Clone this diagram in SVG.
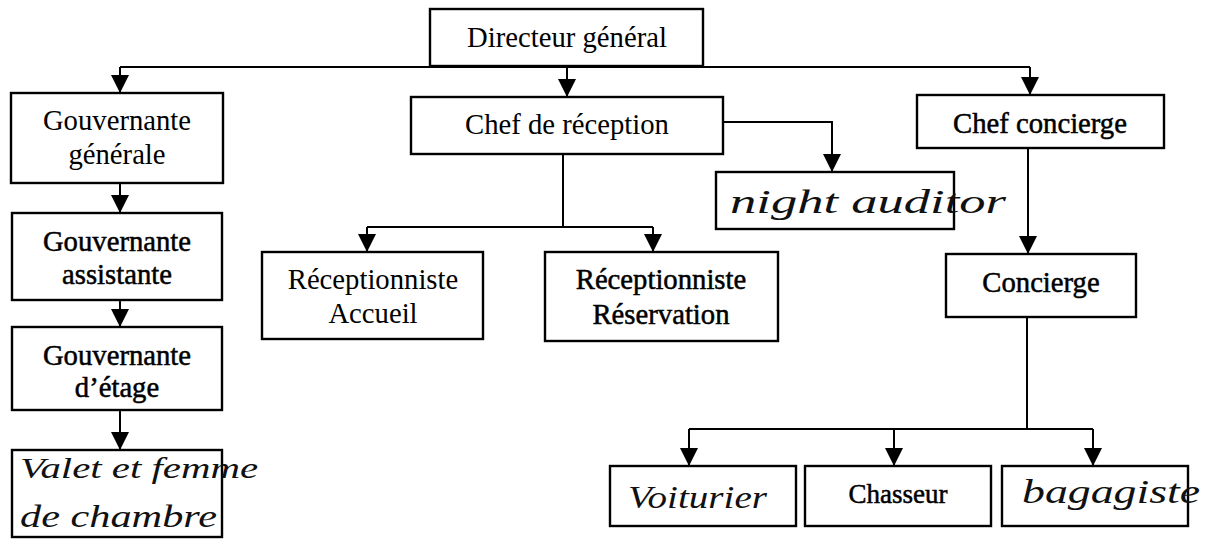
<svg xmlns="http://www.w3.org/2000/svg" width="1210" height="547" viewBox="0 0 1210 547">
<defs>
<marker id="arr" viewBox="0 0 18 18" refX="18" refY="9" markerWidth="18" markerHeight="18" markerUnits="userSpaceOnUse" orient="auto"><path d="M0,0 L18,9 L0,18 Z" fill="#000"/></marker>
<style>
.box{fill:#fff;stroke:#000;stroke-width:2.4}
.t{font-family:"Liberation Serif","Times New Roman",serif;font-size:28.7px;fill:#000;text-anchor:middle}
.d{stroke:#000;stroke-width:0.5}
.hw{font-family:"Liberation Serif","Times New Roman",serif;font-style:italic;fill:#111}
.c{fill:none;stroke:#000;stroke-width:2}
.a{marker-end:url(#arr)}
</style>
</defs>
<rect width="1210" height="547" fill="#fff"/>
<g id="connectors">
<path class="c" d="M120,67 H1030"/>
<path class="c a" d="M120,67 V93"/>
<path class="c a" d="M567,67 V97"/>
<path class="c a" d="M1030,67 V95"/>
<path class="c a" d="M120,183 V213"/>
<path class="c a" d="M120,300 V327"/>
<path class="c a" d="M120,410 V450"/>
<path class="c a" d="M723,122 H832 V172"/>
<path class="c" d="M563,154 V227 M367,227 H653"/>
<path class="c a" d="M367,227 V252"/>
<path class="c a" d="M653,227 V252"/>
<path class="c a" d="M1028,148 V254"/>
<path class="c" d="M1027,317 V429 M689,429 H1093"/>
<path class="c a" d="M689,429 V466"/>
<path class="c a" d="M894,429 V466"/>
<path class="c a" d="M1093,429 V466"/>
</g>
<g id="directeur"><rect class="box" x="430" y="9" width="273" height="57"/><text class="t" x="567" y="47">Directeur général</text></g>
<g id="gouv-generale"><rect class="box" x="11" y="93" width="212" height="90"/><text class="t" x="117" y="130">Gouvernante</text><text class="t" x="117" y="164">générale</text></g>
<g id="gouv-assistante"><rect class="box" x="12" y="213" width="210" height="87"/><text class="t d" x="117" y="251">Gouvernante</text><text class="t d" x="117" y="284">assistante</text></g>
<g id="gouv-etage"><rect class="box" x="12" y="327" width="210" height="83"/><text class="t d" x="117" y="365">Gouvernante</text><text class="t d" x="117" y="397">d’étage</text></g>
<g id="valet"><rect class="box" x="12" y="450" width="210" height="87"/><text class="hw" x="20" y="478" font-size="30" textLength="238" lengthAdjust="spacingAndGlyphs">Valet et femme</text><text class="hw" x="20" y="527" font-size="32" textLength="197" lengthAdjust="spacingAndGlyphs">de  chambre</text></g>
<g id="chef-reception"><rect class="box" x="411" y="97" width="312" height="57"/><text class="t" x="567" y="134">Chef de réception</text></g>
<g id="night-auditor"><rect class="box" x="716" y="172" width="238" height="57"/><text class="hw" x="730" y="213" font-size="34" textLength="276" lengthAdjust="spacingAndGlyphs">night auditor</text></g>
<g id="chef-concierge"><rect class="box" x="917" y="95" width="247" height="53"/><text class="t d" x="1040" y="133">Chef concierge</text></g>
<g id="recep-accueil"><rect class="box" x="262" y="252" width="221" height="87"/><text class="t" x="373" y="289">Réceptionniste</text><text class="t" x="373" y="323">Accueil</text></g>
<g id="recep-reservation"><rect class="box" x="545" y="252" width="233" height="89"/><text class="t d" x="661" y="289">Réceptionniste</text><text class="t d" x="661" y="324">Réservation</text></g>
<g id="concierge"><rect class="box" x="946" y="254" width="190" height="63"/><text class="t d" x="1041" y="292">Concierge</text></g>
<g id="voiturier"><rect class="box" x="610" y="466" width="186" height="60"/><text class="hw" x="628" y="508" font-size="32" textLength="139" lengthAdjust="spacingAndGlyphs">Voiturier</text></g>
<g id="chasseur"><rect class="box" x="805" y="466" width="186" height="60"/><text class="t d" x="898" y="503" style="font-size:27px">Chasseur</text></g>
<g id="bagagiste"><rect class="box" x="1002" y="466" width="186" height="60"/><text class="hw" x="1022" y="503" font-size="34" textLength="178" lengthAdjust="spacingAndGlyphs">bagagiste</text></g>
</svg>
